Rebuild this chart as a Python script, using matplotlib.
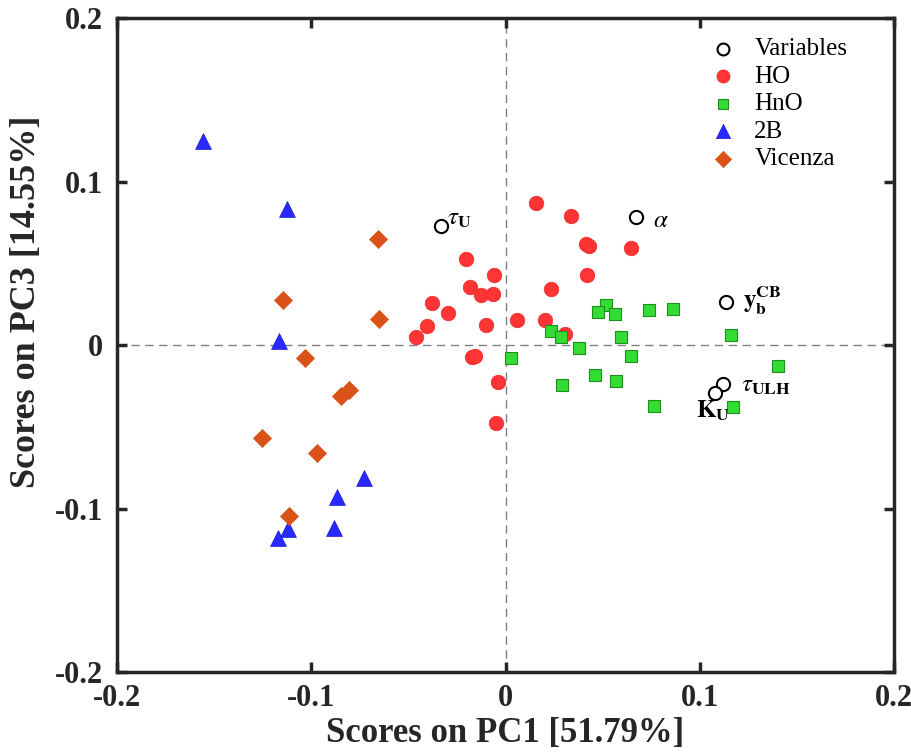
import matplotlib
matplotlib.use('Agg')
import matplotlib.pyplot as plt

# PCA scores (PC1, PC3)
ho_x = [0.0159, 0.0339, 0.0416, 0.0428, 0.0648, -0.0204, -0.0060, 0.0421, -0.0184, -0.0124,
        -0.0067, 0.0236, -0.0379, -0.0297, -0.0402, -0.0460, -0.0098, 0.0060, 0.0202, 0.0305,
        -0.0172, -0.0158, -0.0038, -0.0050]
ho_y = [0.0867, 0.0791, 0.0618, 0.0606, 0.0595, 0.0526, 0.0428, 0.0430, 0.0353, 0.0306,
        0.0314, 0.0342, 0.0259, 0.0194, 0.0118, 0.0051, 0.0120, 0.0153, 0.0151, 0.0067,
        -0.0072, -0.0065, -0.0228, -0.0479]

hno_x = [0.0516, 0.0475, 0.0564, 0.0739, 0.0862, 0.0233, 0.0286, 0.0595, 0.1162, 0.0379,
         0.0646, 0.0029, 0.1402, 0.0459, 0.0567, 0.0289, 0.0764, 0.1171]
hno_y = [0.0245, 0.0200, 0.0192, 0.0216, 0.0220, 0.0086, 0.0051, 0.0051, 0.0059, -0.0016,
         -0.0065, -0.0080, -0.0128, -0.0183, -0.0218, -0.0245, -0.0375, -0.0381]

b2_x = [-0.1557, -0.1125, -0.1165, -0.0731, -0.0868, -0.0882, -0.1122, -0.1173]
b2_y = [0.1248, 0.0830, 0.0024, -0.0815, -0.0928, -0.1117, -0.1123, -0.1178]

vic_x = [-0.0659, -0.1146, -0.0649, -0.1033, -0.0805, -0.0849, -0.1252, -0.0969, -0.1113]
vic_y = [0.0646, 0.0275, 0.0157, -0.0082, -0.0275, -0.0312, -0.0571, -0.0663, -0.1046]

# loadings (variables)
var_names = [r'$\tau_{\mathbf{U}}$', r'$\alpha$', r'$\mathbf{y_b^{CB}}$',
             r'$\tau_{\mathbf{ULH}}$', r'$\mathbf{K_U}$']
var_x = [-0.0330, 0.0670, 0.1133, 0.1120, 0.1077]
var_y = [0.0726, 0.0781, 0.0261, -0.0240, -0.0292]

ticks = [-0.2, -0.1, 0, 0.1, 0.2]
tick_labels = ['-0.2', '-0.1', '0', '0.1', '0.2']

plt.rcParams['font.family'] = ['Liberation Serif', 'DejaVu Serif']
plt.rcParams['mathtext.fontset'] = 'stix'

fig = plt.figure(figsize=(9.12, 7.53), dpi=100)
ax = fig.add_axes([0.1283, 0.1076, 0.852, 0.8684])

ax.axhline(0, color='#808080', linestyle=(0, (6, 4)), linewidth=1, zorder=1)
ax.axvline(0, color='#808080', linestyle=(0, (6, 4)), linewidth=1, zorder=1)

ax.scatter(var_x, var_y, s=90, facecolors='white', edgecolors='black', linewidths=1.5,
           label='Variables', zorder=3)
ax.scatter(ho_x, ho_y, s=110, marker='o', color='#FF3434', edgecolors='#F02828',
           linewidths=0.5, label='HO', zorder=3)
ax.scatter(hno_x, hno_y, s=65, marker='s', color='#33DD33', edgecolors='#1E8F1E',
           linewidths=0.8, label='HnO', zorder=3)
ax.scatter(b2_x, b2_y, s=130, marker='^', color='#2828FF', edgecolors='#1A1ACC',
           linewidths=0.5, label='2B', zorder=3)
ax.scatter(vic_x, vic_y, s=85, marker='D', color='#D95319', edgecolors='#D95319',
           linewidths=0.5, label='Vicenza', zorder=3)

# variable labels, placed next to their markers
offsets = [(0.003, 0.005, 'left'), (0.009, -0.002, 'left'), (0.009, 0.001, 'left'),
           (0.009, -0.001, 'left'), (0.008, -0.011, 'right')]
for name, x, y, (dx, dy, ha) in zip(var_names, var_x, var_y, offsets):
    ax.text(x + dx, y + dy, name, ha=ha, va='center', fontsize=18, fontweight='bold')

ax.set_xlim(-0.2, 0.2)
ax.set_ylim(-0.2, 0.2)
ax.set_xticks(ticks)
ax.set_xticklabels(tick_labels)
ax.set_yticks(ticks)
ax.set_yticklabels(tick_labels)
ax.tick_params(direction='in', length=7, width=2.5, top=True, right=True,
               labelsize=22, colors='#262626')
ax.tick_params(axis='x', pad=9)
ax.tick_params(axis='y', pad=10)
for lab in ax.get_xticklabels() + ax.get_yticklabels():
    lab.set_fontweight('bold')
for sp in ax.spines.values():
    sp.set_linewidth(2.5)
    sp.set_color('#262626')

ax.set_xlabel('Scores on PC1 [51.79%]', fontsize=25, fontweight='bold', color='#262626')
ax.set_ylabel('Scores on PC3 [14.55%]', fontsize=26, fontweight='bold', color='#262626')
ax.xaxis.set_label_coords(0.5, -0.069)
ax.yaxis.set_label_coords(-0.095, 0.566)

ax.legend(loc='upper left', bbox_to_anchor=(0.735, 0.985), frameon=False, fontsize=18,
          handletextpad=0.25, borderaxespad=0.0, labelspacing=0.2, scatterpoints=1,
          markerscale=0.9)

fig.savefig('out.png', dpi=100, facecolor='white')
